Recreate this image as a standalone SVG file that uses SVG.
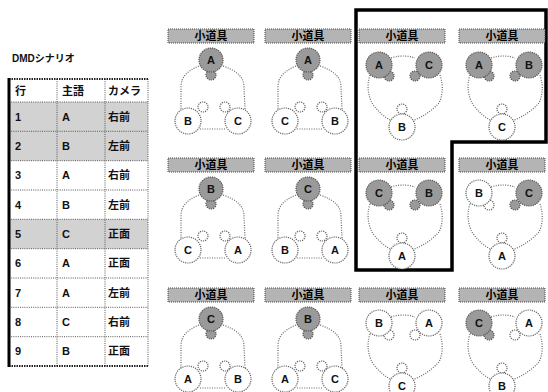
<svg xmlns="http://www.w3.org/2000/svg" width="548" height="392" viewBox="0 0 548 392">
<style>
text{font-family:"Liberation Sans","Noto Sans CJK JP",sans-serif;fill:#111}
.bar{fill:#b4b4b4;stroke:#444;stroke-width:1;stroke-dasharray:1 1}
.bt{font-size:11px;font-weight:bold;text-anchor:middle;fill:#000}
.sh{fill:#9a9a9a;stroke:#555;stroke-width:1.2;stroke-dasharray:1.2 1}
.wh{fill:#fff;stroke:#666;stroke-width:1.2;stroke-dasharray:1.2 1}
.ol{fill:none;stroke:#666;stroke-width:1.2;stroke-dasharray:1 1.4}
.lt{font-size:11px;font-weight:bold;text-anchor:middle}
.tt{font-size:11px;font-weight:bold}
.grid{stroke:#555;stroke-width:1;stroke-dasharray:1 1.2;fill:none}
.frame{fill:none;stroke:#000;stroke-width:3.5}
</style>
<defs>
<g id="o1">
<path class="ol" d="M-12,37 C-24,42 -30,48 -30,58 L-30,80"/>
<path class="ol" d="M12,37 C26,42 33,48 33,58 L34,80"/>
<path class="ol" d="M-11,100 L15,100"/>
</g>
<g id="o2">
<path class="ol" d="M-11,29 Q1,25 13,29"/>
<path class="ol" d="M-32,46 C-36,58 -33,68 -30,74 Q-22,86 -10,92"/>
<path class="ol" d="M38,46 C42,58 40,68 37,74 Q26,86 10,92"/>
</g>
</defs>

<g id="title"><text x="12" y="62" style="font-size:10px;font-weight:bold">DMDシナリオ</text></g>

<g id="table">
<rect x="9" y="79" width="139" height="287" fill="#fff"/>
<rect x="9" y="102" width="139" height="58.7" fill="#d2d2d2"/>
<rect x="9" y="219.3" width="139" height="29.4" fill="#d2d2d2"/>
<path class="grid" d="M9,102 H148 M9,131.3 H148 M9,160.7 H148 M9,190 H148 M9,219.3 H148 M9,248.7 H148 M9,278 H148 M9,307.3 H148 M9,336.7 H148 M57,79 V366 M105,79 V366 M148,79 V366"/>
<path d="M9,79 H148" stroke="#222" stroke-width="2" stroke-dasharray="1.5 1"/>
<path d="M9,366 H148" stroke="#222" stroke-width="2" stroke-dasharray="1.5 1"/>
<path d="M9,78 V367" stroke="#000" stroke-width="3"/>
<text class="tt" x="15" y="95">行</text><text class="tt" x="62" y="95">主語</text><text class="tt" x="108" y="95">カメラ</text>
<text class="tt" x="15" y="121">1</text><text class="tt" x="62" y="121">A</text><text class="tt" x="108" y="121">右前</text>
<text class="tt" x="15" y="150">2</text><text class="tt" x="62" y="150">B</text><text class="tt" x="108" y="150">左前</text>
<text class="tt" x="15" y="179">3</text><text class="tt" x="62" y="179">A</text><text class="tt" x="108" y="179">右前</text>
<text class="tt" x="15" y="209">4</text><text class="tt" x="62" y="209">B</text><text class="tt" x="108" y="209">左前</text>
<text class="tt" x="15" y="238">5</text><text class="tt" x="62" y="238">C</text><text class="tt" x="108" y="238">正面</text>
<text class="tt" x="15" y="267">6</text><text class="tt" x="62" y="267">A</text><text class="tt" x="108" y="267">正面</text>
<text class="tt" x="15" y="297">7</text><text class="tt" x="62" y="297">A</text><text class="tt" x="108" y="297">左前</text>
<text class="tt" x="15" y="326">8</text><text class="tt" x="62" y="326">C</text><text class="tt" x="108" y="326">右前</text>
<text class="tt" x="15" y="355">9</text><text class="tt" x="62" y="355">B</text><text class="tt" x="108" y="355">正面</text>
</g>

<g id="connectors">
<path class="frame" d="M356,10 H546 V142 H452 V270 H356 Z"/>
</g>

<!-- type 1 cells -->
<g id="c11" transform="translate(211,29)">
<rect class="bar" x="-43" y="0" width="86" height="14"/><text class="bt" x="0" y="11">小道具</text>
<use href="#o1"/>
<circle class="sh" cx="0" cy="46" r="5"/><circle class="sh" cx="0" cy="31" r="12"/><text class="lt" x="0" y="35">A</text>
<circle class="wh" cx="-8" cy="78" r="5"/><circle class="wh" cx="14" cy="78" r="5"/>
<circle class="wh" cx="-23" cy="92" r="13"/><text class="lt" x="-23" y="96">B</text>
<circle class="wh" cx="27" cy="92" r="13"/><text class="lt" x="27" y="96">C</text>
</g>
<g id="c12" transform="translate(308,29)">
<rect class="bar" x="-43" y="0" width="86" height="14"/><text class="bt" x="0" y="11">小道具</text>
<use href="#o1"/>
<circle class="sh" cx="0" cy="46" r="5"/><circle class="sh" cx="0" cy="31" r="12"/><text class="lt" x="0" y="35">A</text>
<circle class="wh" cx="-8" cy="78" r="5"/><circle class="wh" cx="14" cy="78" r="5"/>
<circle class="wh" cx="-23" cy="92" r="13"/><text class="lt" x="-23" y="96">C</text>
<circle class="wh" cx="27" cy="92" r="13"/><text class="lt" x="27" y="96">B</text>
</g>
<g id="c21" transform="translate(211,158)">
<rect class="bar" x="-43" y="0" width="86" height="14"/><text class="bt" x="0" y="11">小道具</text>
<use href="#o1"/>
<circle class="sh" cx="0" cy="46" r="5"/><circle class="sh" cx="0" cy="31" r="12"/><text class="lt" x="0" y="35">B</text>
<circle class="wh" cx="-8" cy="78" r="5"/><circle class="wh" cx="14" cy="78" r="5"/>
<circle class="wh" cx="-23" cy="92" r="13"/><text class="lt" x="-23" y="96">C</text>
<circle class="wh" cx="27" cy="92" r="13"/><text class="lt" x="27" y="96">A</text>
</g>
<g id="c22" transform="translate(308,158)">
<rect class="bar" x="-43" y="0" width="86" height="14"/><text class="bt" x="0" y="11">小道具</text>
<use href="#o1"/>
<circle class="sh" cx="0" cy="46" r="5"/><circle class="sh" cx="0" cy="31" r="12"/><text class="lt" x="0" y="35">C</text>
<circle class="wh" cx="-8" cy="78" r="5"/><circle class="wh" cx="14" cy="78" r="5"/>
<circle class="wh" cx="-23" cy="92" r="13"/><text class="lt" x="-23" y="96">B</text>
<circle class="wh" cx="27" cy="92" r="13"/><text class="lt" x="27" y="96">A</text>
</g>
<g id="c31" transform="translate(211,288)">
<rect class="bar" x="-43" y="0" width="86" height="14"/><text class="bt" x="0" y="11">小道具</text>
<use href="#o1"/>
<circle class="sh" cx="0" cy="46" r="5"/><circle class="sh" cx="0" cy="31" r="12"/><text class="lt" x="0" y="35">C</text>
<circle class="wh" cx="-8" cy="78" r="5"/><circle class="wh" cx="14" cy="78" r="5"/>
<circle class="wh" cx="-23" cy="91" r="13"/><text class="lt" x="-23" y="95">A</text>
<circle class="wh" cx="27" cy="91" r="13"/><text class="lt" x="27" y="95">B</text>
</g>
<g id="c32" transform="translate(308,288)">
<rect class="bar" x="-43" y="0" width="86" height="14"/><text class="bt" x="0" y="11">小道具</text>
<use href="#o1"/>
<circle class="sh" cx="0" cy="46" r="5"/><circle class="sh" cx="0" cy="31" r="12"/><text class="lt" x="0" y="35">B</text>
<circle class="wh" cx="-8" cy="78" r="5"/><circle class="wh" cx="14" cy="78" r="5"/>
<circle class="wh" cx="-23" cy="91" r="13"/><text class="lt" x="-23" y="95">A</text>
<circle class="wh" cx="27" cy="91" r="13"/><text class="lt" x="27" y="95">C</text>
</g>

<!-- type 2 cells -->
<g id="c13" transform="translate(402,29)">
<rect class="bar" x="-43" y="0" width="86" height="14"/><text class="bt" x="0" y="11">小道具</text>
<use href="#o2"/>
<circle class="sh" cx="-13" cy="47" r="5"/><circle class="sh" cx="13" cy="47" r="5"/>
<circle class="sh" cx="-23" cy="36" r="13"/><text class="lt" x="-23" y="40">A</text>
<circle class="sh" cx="27" cy="36" r="13"/><text class="lt" x="27" y="40">C</text>
<circle class="wh" cx="0" cy="80" r="5"/>
<circle class="wh" cx="0" cy="98" r="13"/><text class="lt" x="0" y="102">B</text>
</g>
<g id="c14" transform="translate(502,29)">
<rect class="bar" x="-43" y="0" width="86" height="14"/><text class="bt" x="0" y="11">小道具</text>
<use href="#o2"/>
<circle class="sh" cx="-13" cy="47" r="5"/><circle class="sh" cx="13" cy="47" r="5"/>
<circle class="sh" cx="-23" cy="36" r="13"/><text class="lt" x="-23" y="40">A</text>
<circle class="sh" cx="27" cy="36" r="13"/><text class="lt" x="27" y="40">B</text>
<circle class="wh" cx="0" cy="80" r="5"/>
<circle class="wh" cx="0" cy="98" r="13"/><text class="lt" x="0" y="102">C</text>
</g>
<g id="c23" transform="translate(402,158)">
<rect class="bar" x="-43" y="0" width="86" height="14"/><text class="bt" x="0" y="11">小道具</text>
<use href="#o2"/>
<circle class="sh" cx="-13" cy="47" r="5"/><circle class="sh" cx="13" cy="47" r="5"/>
<circle class="sh" cx="-23" cy="35" r="13"/><text class="lt" x="-23" y="39">C</text>
<circle class="sh" cx="27" cy="35" r="13"/><text class="lt" x="27" y="39">B</text>
<circle class="wh" cx="0" cy="80" r="5"/>
<circle class="wh" cx="0" cy="98" r="13"/><text class="lt" x="0" y="102">A</text>
</g>
<g id="c24" transform="translate(502,158)">
<rect class="bar" x="-43" y="0" width="86" height="14"/><text class="bt" x="0" y="11">小道具</text>
<use href="#o2"/>
<circle class="wh" cx="-13" cy="47" r="5"/><circle class="sh" cx="13" cy="47" r="5"/>
<circle class="wh" cx="-23" cy="35" r="13"/><text class="lt" x="-23" y="39">B</text>
<circle class="sh" cx="27" cy="35" r="13"/><text class="lt" x="27" y="39">C</text>
<circle class="wh" cx="0" cy="80" r="5"/>
<circle class="wh" cx="0" cy="98" r="13"/><text class="lt" x="0" y="102">A</text>
</g>
<g id="c33" transform="translate(402,288)">
<rect class="bar" x="-43" y="0" width="86" height="14"/><text class="bt" x="0" y="11">小道具</text>
<use href="#o2"/>
<circle class="wh" cx="-13" cy="47" r="5"/><circle class="wh" cx="13" cy="47" r="5"/>
<circle class="wh" cx="-23" cy="35" r="13"/><text class="lt" x="-23" y="39">B</text>
<circle class="wh" cx="27" cy="35" r="13"/><text class="lt" x="27" y="39">A</text>
<circle class="wh" cx="0" cy="80" r="5"/>
<circle class="wh" cx="0" cy="98" r="13"/><text class="lt" x="0" y="102">C</text>
</g>
<g id="c34" transform="translate(502,288)">
<rect class="bar" x="-43" y="0" width="86" height="14"/><text class="bt" x="0" y="11">小道具</text>
<use href="#o2"/>
<circle class="sh" cx="-13" cy="47" r="5"/><circle class="wh" cx="13" cy="47" r="5"/>
<circle class="sh" cx="-23" cy="35" r="13"/><text class="lt" x="-23" y="39">C</text>
<circle class="wh" cx="27" cy="35" r="13"/><text class="lt" x="27" y="39">A</text>
<circle class="wh" cx="0" cy="80" r="5"/>
<circle class="wh" cx="0" cy="98" r="13"/><text class="lt" x="0" y="102">B</text>
</g>
</svg>
